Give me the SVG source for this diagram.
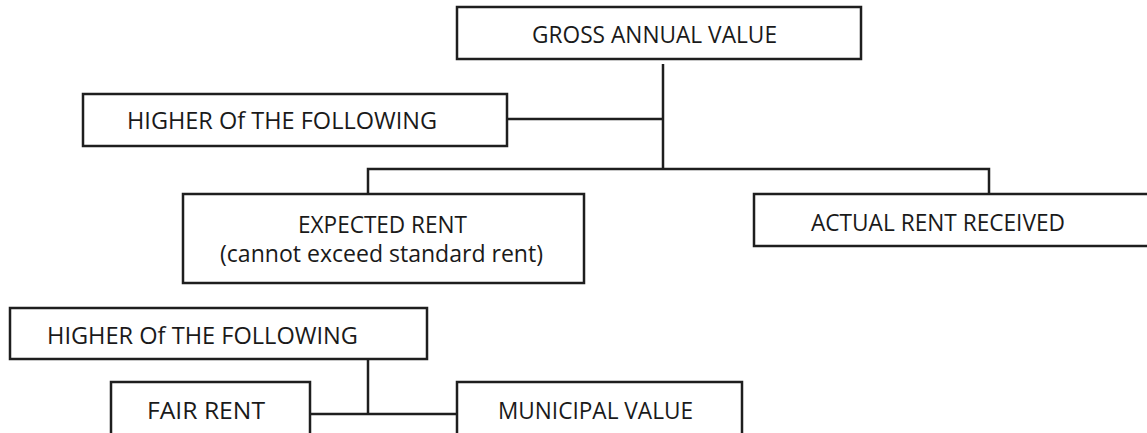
<svg xmlns="http://www.w3.org/2000/svg" width="1147" height="433" viewBox="0 0 1147 433">
<style>
.box{fill:#fff;stroke:#1e1e1e;stroke-width:2.5}
.ln{fill:none;stroke:#1e1e1e;stroke-width:2.5}
.t{font-family:"Open Sans","Liberation Sans",sans-serif;font-size:23px;fill:#1a1a1a}
</style>
<rect width="1147" height="433" fill="#fff"/>
<g id="connectors">
<path class="ln" d="M663 64V169"/>
<path class="ln" d="M507 119H663"/>
<path class="ln" d="M368 194V169H989V194"/>
<path class="ln" d="M368 359V414"/>
<path class="ln" d="M310 414H456"/>
</g>
<g id="gross-annual-value">
<rect class="box" x="457" y="7" width="404" height="52"/>
<text class="t" x="532" y="43" textLength="245" lengthAdjust="spacingAndGlyphs">GROSS ANNUAL VALUE</text>
</g>
<g id="higher-1">
<rect class="box" x="83" y="94" width="424" height="52"/>
<text class="t" x="127" y="129" textLength="310" lengthAdjust="spacingAndGlyphs">HIGHER Of THE FOLLOWING</text>
</g>
<g id="expected-rent">
<rect class="box" x="183" y="194" width="401" height="89"/>
<text class="t" x="298" y="233" textLength="169" lengthAdjust="spacingAndGlyphs">EXPECTED RENT</text>
<text class="t" x="220" y="262" textLength="323" lengthAdjust="spacingAndGlyphs">(cannot exceed standard rent)</text>
</g>
<g id="actual-rent">
<rect class="box" x="754" y="194" width="400" height="52"/>
<text class="t" x="811" y="231" textLength="254" lengthAdjust="spacingAndGlyphs">ACTUAL RENT RECEIVED</text>
</g>
<g id="higher-2">
<rect class="box" x="10" y="308" width="417" height="51"/>
<text class="t" x="47" y="344" textLength="311" lengthAdjust="spacingAndGlyphs">HIGHER Of THE FOLLOWING</text>
</g>
<g id="fair-rent">
<rect class="box" x="111" y="382" width="199" height="60"/>
<text class="t" x="147" y="419" textLength="118" lengthAdjust="spacingAndGlyphs">FAIR RENT</text>
</g>
<g id="municipal-value">
<rect class="box" x="457" y="382" width="285" height="60"/>
<text class="t" x="498" y="419" textLength="195" lengthAdjust="spacingAndGlyphs">MUNICIPAL VALUE</text>
</g>
</svg>
